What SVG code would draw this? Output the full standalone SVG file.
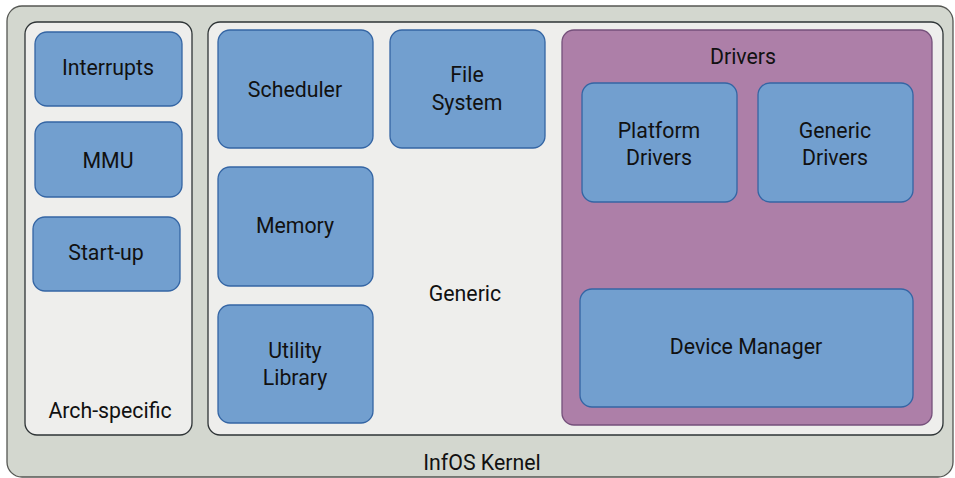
<svg xmlns="http://www.w3.org/2000/svg" width="955" height="478" viewBox="0 0 955 478">
<style>
text{font-family:Roboto,"Liberation Sans",sans-serif;font-size:21.3px;fill:#111;text-anchor:middle;dominant-baseline:central}
.outer{fill:#d3d7cf;stroke:#555753;stroke-width:1.3}
.panel{fill:#eeeeec;stroke:#2e3436;stroke-width:1.3}
.drv{fill:#ad7fa8;stroke:#75507b;stroke-width:1.3}
.node{fill:#729fcf;stroke:#3465a4;stroke-width:1.3}
</style>
<g id="kernel"><rect class="outer" x="7" y="6" width="946" height="471" rx="15"/><text x="482" y="462">InfOS Kernel</text></g>
<g id="arch"><rect class="panel" x="25" y="22" width="167" height="413" rx="12"/><text x="110" y="410">Arch-specific</text></g>
<g id="generic"><rect class="panel" x="208" y="22" width="735" height="413" rx="12"/><text x="465" y="293">Generic</text></g>
<g id="interrupts"><rect class="node" x="35" y="32" width="147" height="74" rx="12"/><text x="108" y="67">Interrupts</text></g>
<g id="mmu"><rect class="node" x="35" y="122" width="147" height="75" rx="12"/><text x="108" y="160">MMU</text></g>
<g id="startup"><rect class="node" x="33" y="217" width="147" height="74" rx="12"/><text x="106" y="252">Start-up</text></g>
<g id="scheduler"><rect class="node" x="218" y="30" width="155" height="118" rx="12"/><text x="295" y="89">Scheduler</text></g>
<g id="filesystem"><rect class="node" x="390" y="30" width="155" height="118" rx="12"/><text x="467" y="74">File</text><text x="467" y="102">System</text></g>
<g id="memory"><rect class="node" x="218" y="167" width="155" height="119" rx="12"/><text x="295" y="225">Memory</text></g>
<g id="utility"><rect class="node" x="218" y="305" width="155" height="118" rx="12"/><text x="295" y="350">Utility</text><text x="295" y="377">Library</text></g>
<g id="drivers"><rect class="drv" x="562" y="30" width="370" height="395" rx="12"/><text x="743" y="56">Drivers</text></g>
<g id="platform"><rect class="node" x="582" y="83" width="155" height="119" rx="12"/><text x="659" y="130">Platform</text><text x="659" y="157">Drivers</text></g>
<g id="genericdrivers"><rect class="node" x="758" y="83" width="155" height="119" rx="12"/><text x="835" y="130">Generic</text><text x="835" y="157">Drivers</text></g>
<g id="devicemanager"><rect class="node" x="580" y="289" width="333" height="118" rx="12"/><text x="746" y="346">Device Manager</text></g>
<g id="connectors"></g>
</svg>
